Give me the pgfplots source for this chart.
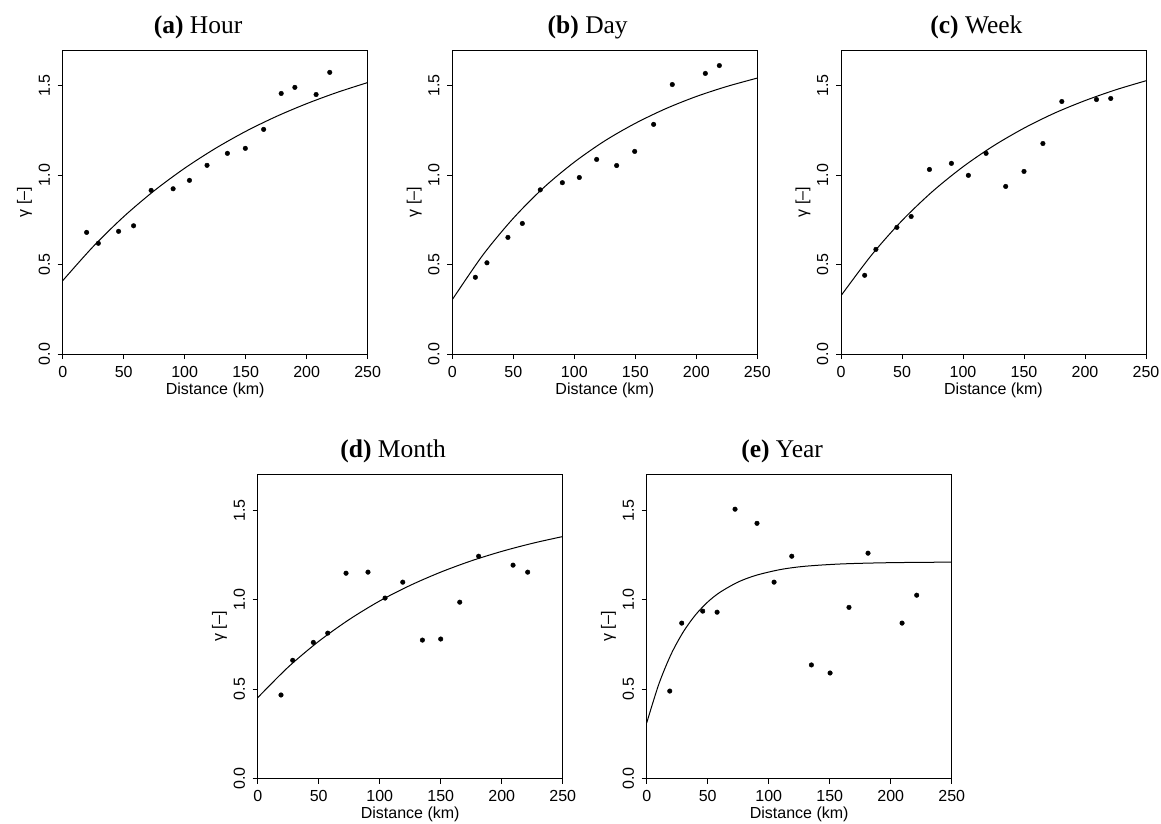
\documentclass[border=0pt]{standalone}
\usepackage{fontspec}
\setmainfont{Liberation Serif}
\setsansfont{Liberation Sans}
\usepackage{pgfplots}
\pgfplotsset{compat=1.18}

% one R-style variogram panel; 1pt here = 1px of the reference
\pgfplotsset{
  rpanel/.style={
    scale only axis, width=305pt, height=304pt,
    xmin=0, xmax=250, ymin=0, ymax=1.7,
    xtick={0,50,100,150,200,250}, ytick={0,0.5,1,1.5},
    tick align=outside, xtick pos=left, ytick pos=left,
    major tick length=5pt,
    axis line style={line width=0.9pt},
    every tick/.style={black, line width=0.9pt},
    tick label style={font=\sffamily\fontsize{16}{19}\selectfont},
    /pgf/number format/assume math mode=true,
    xticklabel style={inner ysep=7pt},
    yticklabel style={/pgf/number format/fixed, /pgf/number format/fixed zerofill,
      /pgf/number format/precision=1, rotate=90, anchor=south, inner ysep=7.5pt},
    every axis x label/.style={at={(axis description cs:0.5,-0.133)}, anchor=base,
      font=\sffamily\fontsize{16}{19}\selectfont},
    every axis y label/.style={at={(axis description cs:-0.125,0.5)}, anchor=center, rotate=90,
      font=\sffamily\fontsize{16}{19}\selectfont},
    xlabel={Distance (km)}, ylabel={γ [–]},
    every axis title/.style={at={(axis description cs:0.444,1)}, anchor=base,
      yshift=16.7pt, font=\fontsize{25.5}{30}\selectfont},
  },
  pts/.style={only marks, mark=*, mark size=2.3pt, black},
  fit/.style={no marks, smooth, black, line width=1pt},
}

\begin{document}
\begin{tikzpicture}
\path[use as bounding box] (0,0) rectangle (1161pt,823pt);

% (a) Hour
\begin{axis}[rpanel, at={(62.7pt,469pt)}, anchor=south west, title={\textbf{(a)} Hour}]
\addplot[fit] table {
0 0.410
25 0.601
50 0.768
75 0.913
100 1.039
125 1.149
150 1.245
175 1.328
200 1.400
225 1.463
250 1.518
};
\addplot[pts] table {
19.6 0.680
29.2 0.619
45.8 0.686
58.1 0.717
72.5 0.915
90.5 0.924
103.9 0.971
118.3 1.055
135.0 1.122
149.7 1.150
164.7 1.256
179.1 1.457
190.3 1.491
207.7 1.451
218.9 1.575
};
\end{axis}

% (b) Day
\begin{axis}[rpanel, at={(452.3pt,469pt)}, anchor=south west, title={\textbf{(b)} Day}]
\addplot[fit] table {
0 0.304
25 0.553
50 0.759
75 0.931
100 1.073
125 1.192
150 1.290
175 1.372
200 1.440
225 1.496
250 1.543
};
\addplot[pts] table {
18.9 0.429
28.4 0.510
45.6 0.652
57.4 0.730
72.1 0.918
90.2 0.958
104.1 0.987
118.3 1.088
134.7 1.054
149.5 1.133
165.0 1.284
180.3 1.507
207.4 1.569
218.9 1.613
};
\end{axis}

% (c) Week
\begin{axis}[rpanel, at={(841pt,469pt)}, anchor=south west, title={\textbf{(c)} Week}]
\addplot[fit] table {
0 0.326
25 0.553
50 0.746
75 0.909
100 1.047
125 1.164
150 1.263
175 1.347
200 1.417
225 1.477
250 1.528
};
\addplot[pts] table {
19.4 0.440
28.6 0.585
45.8 0.708
57.5 0.769
72.5 1.032
90.5 1.066
104.4 0.999
118.9 1.122
135.0 0.937
150.0 1.021
165.5 1.177
181.0 1.412
209.4 1.423
221.1 1.429
};
\end{axis}

% (d) Month
\begin{axis}[rpanel, at={(257.7pt,44.5pt)}, anchor=south west, title={\textbf{(d)} Month}]
\addplot[fit] table {
0 0.452
25 0.623
50 0.767
75 0.889
100 0.993
125 1.080
150 1.154
175 1.217
200 1.270
225 1.315
250 1.353
};
\addplot[pts] table {
19.1 0.467
28.7 0.661
45.6 0.761
57.4 0.813
72.4 1.148
90.4 1.154
104.4 1.009
118.9 1.098
135.0 0.774
150.0 0.780
165.6 0.986
181.1 1.243
209.3 1.193
221.3 1.154
};
\end{axis}

% (e) Year
\begin{axis}[rpanel, at={(646.7pt,44.5pt)}, anchor=south west, title={\textbf{(e)} Year}]
\addplot[fit] table {
0 0.311
10 0.529
20 0.695
30 0.820
40 0.915
50 0.987
60 1.041
75 1.099
90 1.137
110 1.169
130 1.187
160 1.200
200 1.207
250 1.210
};
\addplot[pts] table {
18.9 0.489
28.7 0.869
45.9 0.936
57.7 0.930
72.4 1.506
90.4 1.427
104.4 1.098
118.9 1.243
135.0 0.635
150.3 0.590
165.8 0.957
181.4 1.260
209.3 0.869
221.3 1.025
};
\end{axis}
\end{tikzpicture}
\end{document}
